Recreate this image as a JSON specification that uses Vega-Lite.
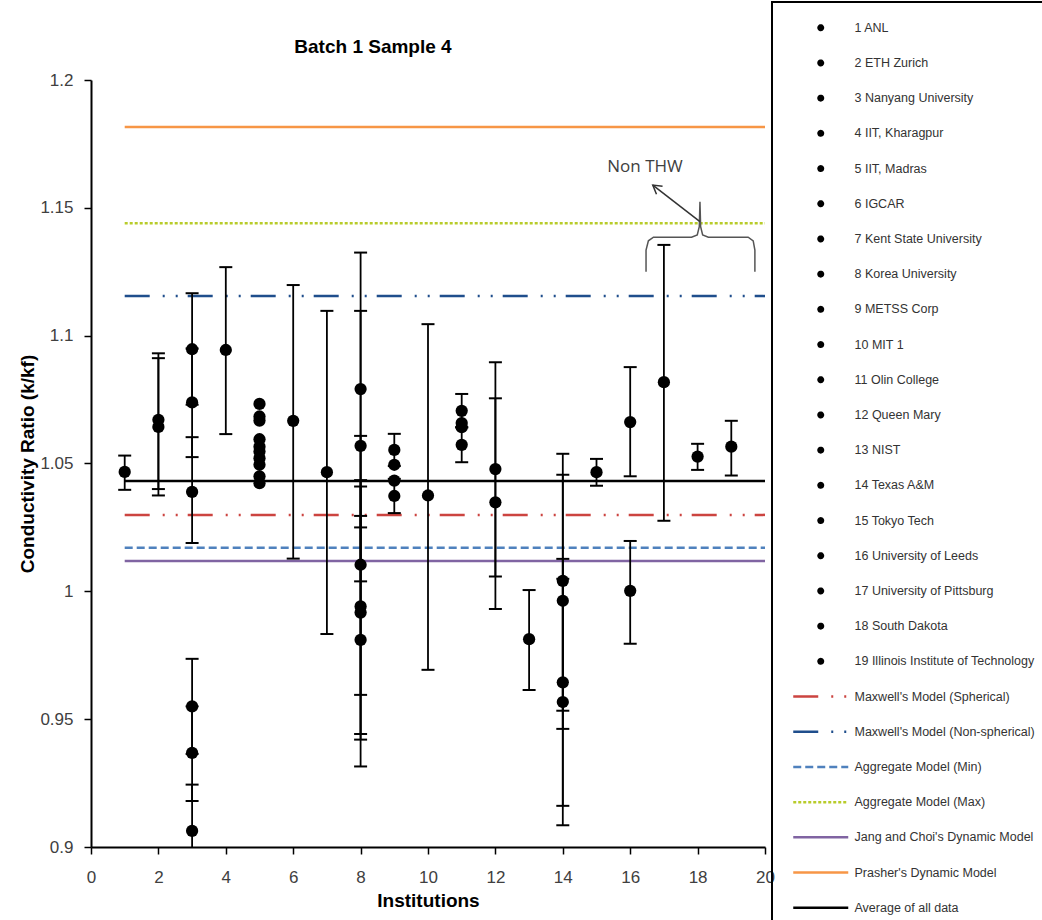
{
  "$schema": "https://vega.github.io/schema/vega-lite/v6.json",
  "width": 674,
  "height": 767,
  "autosize": {"type": "none"},
  "padding": {"left": 91, "top": 80, "right": 277, "bottom": 73},
  "background": "white",
  "title": {"text": "Batch 1 Sample 4", "font": "Liberation Sans", "fontSize": 19, "fontWeight": "bold", "color": "black", "anchor": "middle", "frame": "group", "dx": -55, "offset": -56},
  "config": {
    "view": {"stroke": null},
    "axis": {"grid": false, "domainColor": "black", "domainWidth": 2, "tickColor": "black", "tickWidth": 1.5, "tickSize": 7, "labelColor": "#404040", "labelFont": "Liberation Sans", "labelFontSize": 17, "labelOverlap": false, "labelSeparation": -20, "labelFlush": false, "titleFont": "Liberation Sans", "titleFontSize": 19, "titleFontWeight": "bold", "titleColor": "black"},
    "legend": {"orient": "none", "legendX": 681, "legendY": -78, "padding": 19.5, "rowPadding": 20.2, "symbolSize": 20, "symbolStrokeWidth": 2.5, "labelFont": "Liberation Sans", "labelFontSize": 12.5, "labelColor": "#333333", "labelLimit": 400, "strokeColor": "black", "strokeWidth": 2, "symbolOffset": 23, "labelOffset": 27.5, "title": null, "symbolLimit": 0}
  },
  "datasets": {
    "points": [
      {"inst": 1, "name": "1 ANL", "k": 1.0467, "lo": 1.0397, "hi": 1.0531},
      {"inst": 2, "name": "2 ETH Zurich", "k": 1.0671, "lo": 1.040, "hi": 1.0931},
      {"inst": 2, "name": "2 ETH Zurich", "k": 1.0643, "lo": 1.0375, "hi": 1.0912},
      {"inst": 3, "name": "3 Nanyang  University", "k": 1.0947, "lo": 1.073, "hi": 1.1166},
      {"inst": 3, "name": "3 Nanyang  University", "k": 1.0739, "lo": 1.0525, "hi": 1.095},
      {"inst": 3, "name": "3 Nanyang  University", "k": 1.0389, "lo": 1.0189, "hi": 1.0603},
      {"inst": 3, "name": "3 Nanyang  University", "k": 0.955, "lo": 0.9364, "hi": 0.9736},
      {"inst": 3, "name": "3 Nanyang  University", "k": 0.9368, "lo": 0.918, "hi": 0.955},
      {"inst": 3, "name": "3 Nanyang  University", "k": 0.9063, "lo": 0.8877, "hi": 0.9244},
      {"inst": 4, "name": "4 IIT, Kharagpur", "k": 1.0944, "lo": 1.0615, "hi": 1.1268},
      {"inst": 5, "name": "5 IIT, Madras", "k": 1.0733, "lo": null, "hi": null},
      {"inst": 5, "name": "5 IIT, Madras", "k": 1.0684, "lo": null, "hi": null},
      {"inst": 5, "name": "5 IIT, Madras", "k": 1.0668, "lo": null, "hi": null},
      {"inst": 5, "name": "5 IIT, Madras", "k": 1.0595, "lo": null, "hi": null},
      {"inst": 5, "name": "5 IIT, Madras", "k": 1.0566, "lo": null, "hi": null},
      {"inst": 5, "name": "5 IIT, Madras", "k": 1.0547, "lo": null, "hi": null},
      {"inst": 5, "name": "5 IIT, Madras", "k": 1.0521, "lo": null, "hi": null},
      {"inst": 5, "name": "5 IIT, Madras", "k": 1.0495, "lo": null, "hi": null},
      {"inst": 5, "name": "5 IIT, Madras", "k": 1.045, "lo": null, "hi": null},
      {"inst": 5, "name": "5 IIT, Madras", "k": 1.0423, "lo": null, "hi": null},
      {"inst": 6, "name": "6 IGCAR", "k": 1.0667, "lo": 1.0128, "hi": 1.1198},
      {"inst": 7, "name": "7 Kent State  University", "k": 1.0466, "lo": 0.9833, "hi": 1.1097},
      {"inst": 8, "name": "8 Korea University", "k": 1.0791, "lo": 1.025, "hi": 1.1325},
      {"inst": 8, "name": "8 Korea University", "k": 1.0569, "lo": 1.0039, "hi": 1.1097},
      {"inst": 8, "name": "8 Korea University", "k": 1.0104, "lo": 0.9595, "hi": 1.0608},
      {"inst": 8, "name": "8 Korea University", "k": 0.9941, "lo": 0.9442, "hi": 1.0435},
      {"inst": 8, "name": "8 Korea University", "k": 0.9917, "lo": 0.942, "hi": 1.041},
      {"inst": 8, "name": "8 Korea University", "k": 0.981, "lo": 0.9315, "hi": 1.0295},
      {"inst": 9, "name": "9 METSS Corp", "k": 1.0553, "lo": 1.049, "hi": 1.0616},
      {"inst": 9, "name": "9 METSS Corp", "k": 1.0495, "lo": null, "hi": null},
      {"inst": 9, "name": "9 METSS Corp", "k": 1.0433, "lo": null, "hi": null},
      {"inst": 9, "name": "9 METSS Corp", "k": 1.0373, "lo": 1.0306, "hi": 1.044},
      {"inst": 10, "name": "10 MIT 1", "k": 1.0375, "lo": 0.9693, "hi": 1.1045},
      {"inst": 11, "name": "11 Olin College", "k": 1.0706, "lo": 1.0642, "hi": 1.0772},
      {"inst": 11, "name": "11 Olin College", "k": 1.0658, "lo": null, "hi": null},
      {"inst": 11, "name": "11 Olin College", "k": 1.0642, "lo": null, "hi": null},
      {"inst": 11, "name": "11 Olin College", "k": 1.0573, "lo": 1.0505, "hi": 1.0641},
      {"inst": 12, "name": "12 Queen  Mary", "k": 1.0478, "lo": 1.0058, "hi": 1.0896},
      {"inst": 12, "name": "12 Queen  Mary", "k": 1.0348, "lo": 0.9931, "hi": 1.0755},
      {"inst": 13, "name": "13 NIST", "k": 0.9813, "lo": 0.9614, "hi": 1.0005},
      {"inst": 14, "name": "14 Texas A&M", "k": 1.0041, "lo": 0.9533, "hi": 1.0538},
      {"inst": 14, "name": "14 Texas A&M", "k": 0.9963, "lo": 0.9462, "hi": 1.0456},
      {"inst": 14, "name": "14 Texas A&M", "k": 0.9644, "lo": 0.9161, "hi": 1.0127},
      {"inst": 14, "name": "14 Texas A&M", "k": 0.9567, "lo": 0.9085, "hi": 1.0049},
      {"inst": 15, "name": "15 Tokyo Tech", "k": 1.0466, "lo": 1.0413, "hi": 1.0518},
      {"inst": 16, "name": "16 University of Leeds", "k": 1.0662, "lo": 1.045, "hi": 1.0877},
      {"inst": 16, "name": "16 University of Leeds", "k": 1.0002, "lo": 0.9795, "hi": 1.0197},
      {"inst": 17, "name": "17 University of Pittsburg", "k": 1.0818, "lo": 1.0276, "hi": 1.1355},
      {"inst": 18, "name": "18 South  Dakota", "k": 1.0527, "lo": 1.0475, "hi": 1.0577},
      {"inst": 19, "name": "19 Illinois  Institute  of Technology", "k": 1.0566, "lo": 1.0453, "hi": 1.0667}
    ],
    "models": [
      {"name": "Maxwell's Model (Spherical)", "k": 1.0299},
      {"name": "Maxwell's Model (Non-spherical)", "k": 1.1155},
      {"name": "Aggregate Model (Min)", "k": 1.017},
      {"name": "Aggregate Model (Max)", "k": 1.144},
      {"name": "Jang and Choi's Dynamic Model", "k": 1.0119},
      {"name": "Prasher's Dynamic Model", "k": 1.1816},
      {"name": "Average of all data", "k": 1.0432}
    ],
    "brace": [
      {"i": 1, "x": 16.47, "y": 1.125},
      {"i": 2, "x": 16.47, "y": 1.1335},
      {"i": 3, "x": 16.54, "y": 1.1371},
      {"i": 4, "x": 16.69, "y": 1.1385},
      {"i": 5, "x": 17.82, "y": 1.1385},
      {"i": 6, "x": 17.99, "y": 1.1394},
      {"i": 7, "x": 18.05, "y": 1.1426},
      {"i": 8, "x": 18.07, "y": 1.1524},
      {"i": 9, "x": 18.09, "y": 1.1426},
      {"i": 10, "x": 18.15, "y": 1.1394},
      {"i": 11, "x": 18.32, "y": 1.1385},
      {"i": 12, "x": 19.5, "y": 1.1385},
      {"i": 13, "x": 19.65, "y": 1.1371},
      {"i": 14, "x": 19.7, "y": 1.1335},
      {"i": 15, "x": 19.7, "y": 1.125}
    ],
    "arrow": [
      {"part": "shaft", "i": 1, "x": 18.07, "y": 1.1446},
      {"part": "shaft", "i": 2, "x": 16.67, "y": 1.1589},
      {"part": "head", "i": 1, "x": 16.78, "y": 1.1553},
      {"part": "head", "i": 2, "x": 16.67, "y": 1.1589},
      {"part": "head", "i": 3, "x": 16.96, "y": 1.1584}
    ],
    "note": [{"label": "Non THW", "x": 16.44, "y": 1.166}]
  },
  "layer": [
    {
      "data": {"name": "models"},
      "mark": {"type": "rule", "strokeWidth": 2.5},
      "encoding": {
        "y": {"field": "k", "type": "quantitative"},
        "x": {"datum": 1, "type": "quantitative"},
        "x2": {"datum": 20},
        "color": {"field": "name", "type": "nominal", "scale": {"domain": ["1 ANL", "2 ETH Zurich", "3 Nanyang  University", "4 IIT, Kharagpur", "5 IIT, Madras", "6 IGCAR", "7 Kent State  University", "8 Korea University", "9 METSS Corp", "10 MIT 1", "11 Olin College", "12 Queen  Mary", "13 NIST", "14 Texas A&M", "15 Tokyo Tech", "16 University of Leeds", "17 University of Pittsburg", "18 South  Dakota", "19 Illinois  Institute  of Technology", "Maxwell's Model (Spherical)", "Maxwell's Model (Non-spherical)", "Aggregate Model (Min)", "Aggregate Model (Max)", "Jang and Choi's Dynamic Model", "Prasher's Dynamic Model", "Average of all data"], "range": ["black","black","black","black","black","black","black","black","black","black","black","black","black","black","black","black","black","black","black", "#cc4440", "#1f4e8c", "#4f81bd", "#b8cc2a", "#8064a2", "#f79646", "black"]}, "legend": {"encode": {"symbols": {"update": {"stroke": {"scale": "color", "field": "value"}, "strokeWidth": {"value": 2.5}}}}}},
        "strokeDash": {"field": "name", "type": "nominal", "scale": {"domain": ["1 ANL", "2 ETH Zurich", "3 Nanyang  University", "4 IIT, Kharagpur", "5 IIT, Madras", "6 IGCAR", "7 Kent State  University", "8 Korea University", "9 METSS Corp", "10 MIT 1", "11 Olin College", "12 Queen  Mary", "13 NIST", "14 Texas A&M", "15 Tokyo Tech", "16 University of Leeds", "17 University of Pittsburg", "18 South  Dakota", "19 Illinois  Institute  of Technology", "Maxwell's Model (Spherical)", "Maxwell's Model (Non-spherical)", "Aggregate Model (Min)", "Aggregate Model (Max)", "Jang and Choi's Dynamic Model", "Prasher's Dynamic Model", "Average of all data"], "range": [[1,0],[1,0],[1,0],[1,0],[1,0],[1,0],[1,0],[1,0],[1,0],[1,0],[1,0],[1,0],[1,0],[1,0],[1,0],[1,0],[1,0],[1,0],[1,0],[25,13,2,11,2,10],[25,13,2,11,2,10],[8,4],[3,2],[1,0],[1,0],[1,0]]}}
      }
    },
    {
      "data": {"name": "points"},
      "transform": [{"filter": "datum.lo != null"}],
      "mark": {"type": "rule", "color": "black", "strokeWidth": 1.8, "clip": true},
      "encoding": {
        "x": {"field": "inst", "type": "quantitative"},
        "y": {"field": "lo", "type": "quantitative"},
        "y2": {"field": "hi"}
      }
    },
    {
      "data": {"name": "points"},
      "transform": [{"filter": "datum.lo != null && datum.lo >= 0.9"}],
      "mark": {"type": "tick", "color": "black", "orient": "horizontal", "size": 13, "thickness": 2, "opacity": 1},
      "encoding": {
        "x": {"field": "inst", "type": "quantitative"},
        "y": {"field": "lo", "type": "quantitative"}
      }
    },
    {
      "data": {"name": "points"},
      "transform": [{"filter": "datum.hi != null"}],
      "mark": {"type": "tick", "color": "black", "orient": "horizontal", "size": 13, "thickness": 2, "opacity": 1},
      "encoding": {
        "x": {"field": "inst", "type": "quantitative"},
        "y": {"field": "hi", "type": "quantitative"}
      }
    },
    {
      "data": {"name": "points"},
      "mark": {"type": "point", "filled": true, "size": 150, "opacity": 1},
      "encoding": {
        "x": {"field": "inst", "type": "quantitative", "scale": {"domain": [0, 20], "nice": false, "zero": false}, "axis": {"title": "Institutions", "values": [0,1,2,3,4,5,6,7,8,9,10,11,12,13,14,15,16,17,18,19,20], "labelOverlap": false, "labelSeparation": -20, "labelFlush": false, "labelPadding": 15, "titlePadding": 6}},
        "y": {"field": "k", "type": "quantitative", "scale": {"domain": [0.9, 1.2], "nice": false, "zero": false}, "axis": {"title": "Conductivity Ratio (k/kf)", "values": [0.9, 0.95, 1, 1.05, 1.1, 1.15, 1.2], "format": ".3~g", "labelOverlap": false, "labelPadding": 11, "titlePadding": 2}},
        "color": {"field": "name", "type": "nominal"},
        "shape": {"field": "name", "type": "nominal", "scale": {"domain": ["1 ANL", "2 ETH Zurich", "3 Nanyang  University", "4 IIT, Kharagpur", "5 IIT, Madras", "6 IGCAR", "7 Kent State  University", "8 Korea University", "9 METSS Corp", "10 MIT 1", "11 Olin College", "12 Queen  Mary", "13 NIST", "14 Texas A&M", "15 Tokyo Tech", "16 University of Leeds", "17 University of Pittsburg", "18 South  Dakota", "19 Illinois  Institute  of Technology", "Maxwell's Model (Spherical)", "Maxwell's Model (Non-spherical)", "Aggregate Model (Min)", "Aggregate Model (Max)", "Jang and Choi's Dynamic Model", "Prasher's Dynamic Model", "Average of all data"], "range": ["circle","circle","circle","circle","circle","circle","circle","circle","circle","circle","circle","circle","circle","circle","circle","circle","circle","circle","circle","M0,-0.83M0,0.83M-12.3,0H12.3","M0,-0.83M0,0.83M-12.3,0H12.3","M0,-0.83M0,0.83M-12.3,0H12.3","M0,-0.83M0,0.83M-12.3,0H12.3","M0,-0.83M0,0.83M-12.3,0H12.3","M0,-0.83M0,0.83M-12.3,0H12.3","M0,-0.83M0,0.83M-12.3,0H12.3"]}}
      }
    },
    {
      "data": {"name": "brace"},
      "mark": {"type": "line", "color": "#555555", "strokeWidth": 1.5},
      "encoding": {
        "x": {"field": "x", "type": "quantitative"},
        "y": {"field": "y", "type": "quantitative"},
        "order": {"field": "i"}
      }
    },
    {
      "data": {"name": "arrow"},
      "mark": {"type": "line", "color": "#333333", "strokeWidth": 1.5},
      "encoding": {
        "x": {"field": "x", "type": "quantitative"},
        "y": {"field": "y", "type": "quantitative"},
        "detail": {"field": "part"},
        "order": {"field": "i"}
      }
    },
    {
      "data": {"name": "note"},
      "mark": {"type": "text", "font": "Open Sans", "fontSize": 17, "color": "#404040"},
      "encoding": {
        "x": {"field": "x", "type": "quantitative"},
        "y": {"field": "y", "type": "quantitative"},
        "text": {"field": "label"}
      }
    }
  ]
}
